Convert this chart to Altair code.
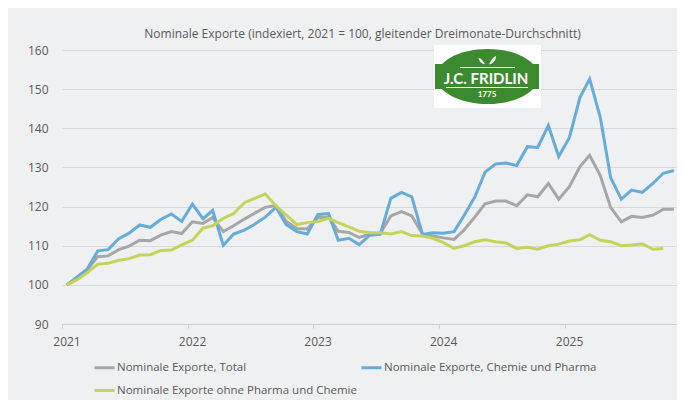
import altair as alt
import pandas as pd

# ---- data ----
series_names = [
    "Nominale Exporte, Total",
    "Nominale Exporte, Chemie und Pharma",
    "Nominale Exporte ohne Pharma und Chemie",
]
series_colors = ["#a6a6a6", "#66acd8", "#c4d45a"]

total = [100.0, 101.6, 103.8, 107.2, 107.4, 109.0, 109.9, 111.4, 111.3, 112.7, 113.6, 113.1,
         116.1, 115.7, 117.2, 113.6, 115.1, 116.8, 118.3, 119.8, 120.3, 116.2, 114.4, 114.3,
         117.2, 117.3, 113.7, 113.4, 112.1, 113.0, 113.1, 117.6, 118.7, 117.6, 113.0, 112.5,
         112.0, 111.6, 114.0, 117.3, 120.7, 121.4, 121.4, 120.2, 123.0, 122.5, 125.9, 121.9,
         125.1, 130.2, 133.1, 127.9, 119.8, 116.1, 117.5, 117.2, 117.8, 119.3, 119.3]

chemie = [100.0, 102.1, 104.0, 108.7, 109.0, 111.8, 113.2, 115.3, 114.7, 116.7, 118.1, 116.2,
          120.6, 116.9, 119.0, 110.1, 113.0, 114.0, 115.5, 117.3, 119.8, 115.4, 113.6, 113.0,
          118.0, 118.2, 111.4, 111.9, 110.3, 112.7, 112.9, 122.1, 123.6, 122.5, 112.9, 113.3,
          113.2, 113.6, 117.7, 122.4, 128.8, 130.9, 131.1, 130.5, 135.3, 135.1, 140.7, 132.8,
          137.6, 147.9, 152.6, 142.8, 127.4, 121.9, 124.2, 123.6, 125.9, 128.5, 129.2]

ohne = [100.0, 101.4, 103.1, 105.3, 105.5, 106.3, 106.7, 107.6, 107.7, 108.8, 108.9, 110.2,
        111.4, 114.5, 115.1, 117.0, 118.2, 121.0, 122.1, 123.2, 120.2, 117.8, 115.4, 115.9,
        116.2, 117.0, 115.9, 114.8, 113.7, 113.3, 113.3, 113.0, 113.6, 112.6, 112.5, 111.9,
        110.8, 109.3, 110.0, 111.0, 111.5, 111.0, 110.7, 109.3, 109.6, 109.1, 110.0, 110.4,
        111.2, 111.5, 112.8, 111.4, 111.0, 110.0, 110.2, 110.5, 109.1, 109.3]

year_ticks = [2021, 2022, 2023, 2024, 2025]
y_ticks = [90, 100, 110, 120, 130, 140, 150, 160]
title_text = "Nominale Exporte (indexiert, 2021 = 100, gleitender Dreimonate-Durchschnitt)"

months = pd.date_range("2021-01-01", periods=59, freq="MS") + pd.Timedelta(days=14)

rows = []
for name, vals in zip(series_names, [total, chemie, ohne]):
    for d, v in zip(months, vals):
        rows.append({"Monat": d, "Serie": name, "Wert": v})
df = pd.DataFrame(rows)

FONT = "Open Sans"
TXT = "#595959"
GREEN = "#3c8a2f"

W, H = 615, 274

x_enc = alt.X(
    "Monat:T",
    title=None,
    scale=alt.Scale(domain=[alt.DateTime(year=2021, month=1, date=1),
                            alt.DateTime(year=2025, month=11, date=24)]),
    axis=alt.Axis(values=[alt.DateTime(year=y, month=1, date=1) for y in year_ticks],
                  format="%Y", grid=False, domainColor="#cfcfcf", tickColor="#cfcfcf",
                  tickSize=4, labelPadding=8, labelOffset=4.5, labelFlush=False,
                  labelFont=FONT, labelFontSize=12, labelColor=TXT),
)
y_enc = alt.Y(
    "Wert:Q",
    title=None,
    scale=alt.Scale(domain=[90, 160], nice=False, zero=False),
    axis=alt.Axis(values=y_ticks, grid=True, gridColor="#d9d9d9", gridWidth=1,
                  domain=False, ticks=False, labelPadding=14, labelFont=FONT,
                  labelFontSize=12, labelColor=TXT),
)
color_enc = alt.Color(
    "Serie:N",
    scale=alt.Scale(domain=series_names, range=series_colors),
    legend=alt.Legend(orient="none", legendX=31, legendY=306, direction="horizontal",
                      columns=2, columnPadding=-2, rowPadding=5, title=None,
                      symbolType="stroke", symbolSize=400, symbolStrokeWidth=3,
                      labelFont=FONT, labelFontSize=11.5, labelColor=TXT,
                      labelOffset=1, labelLimit=500, padding=0),
)

one = pd.DataFrame({"k": [0]})

lines = [
    alt.Chart(df).transform_filter(alt.datum.Serie == n).mark_line(strokeWidth=3).encode(
        x=x_enc, y=y_enc, color=color_enc)
    for n in series_names
]

# ---- logo ----
logo_box = alt.Chart(one).mark_rect(color="white").encode(
    x=alt.value(372), x2=alt.value(479), y=alt.value(-5), y2=alt.value(58))
ellipse_path = "M-1,0 A1,0.54 0 1,1 1,0 A1,0.54 0 1,1 -1,0 Z"
logo_ellipse = alt.Chart(one).mark_point(shape=ellipse_path, size=102 * 102, filled=True,
                                         fill=GREEN, strokeWidth=0, opacity=1).encode(
    x=alt.value(425.5), y=alt.value(26.5))
logo_band = alt.Chart(one).mark_rect(color=GREEN).encode(
    x=alt.value(373), x2=alt.value(477), y=alt.value(14), y2=alt.value(39))
logo_text = alt.Chart(one).mark_text(text="J.C. FRIDLIN", font="Lato", fontWeight="bold",
                                     fontSize=15, color="white", align="center",
                                     baseline="middle").encode(
    x=alt.value(424), y=alt.value(28.5))
logo_year = alt.Chart(one).mark_text(text="1775", font="Lato", fontWeight="bold",
                                     fontSize=8, color="white", align="center",
                                     baseline="middle").encode(
    x=alt.value(425), y=alt.value(45))
logo_rule1 = alt.Chart(one).mark_rule(color="white", strokeWidth=1).encode(
    x=alt.value(398), x2=alt.value(453), y=alt.value(17.5))
logo_rule2 = alt.Chart(one).mark_rule(color="white", strokeWidth=1).encode(
    x=alt.value(384), x2=alt.value(466), y=alt.value(37.5))
leaf_left = "M0,0.5 C-0.3,0 -0.6,-0.4 -1,-0.5 C-0.95,0 -0.6,0.4 0,0.5 Z"
leaf_right = "M0,0.5 C0.3,-0.1 0.6,-0.6 1,-0.7 C0.95,-0.1 0.6,0.4 0,0.5 Z"
logo_leaf1 = alt.Chart(one).mark_point(shape=leaf_left, size=170, filled=True, fill="white",
                                       strokeWidth=0, opacity=1).encode(
    x=alt.value(423), y=alt.value(11))
logo_leaf2 = alt.Chart(one).mark_point(shape=leaf_right, size=200, filled=True, fill="white",
                                       strokeWidth=0, opacity=1).encode(
    x=alt.value(427), y=alt.value(11))

chart = alt.layer(
    *lines,
    logo_box, logo_ellipse, logo_band, logo_text, logo_year, logo_rule1, logo_rule2,
    logo_leaf1, logo_leaf2,
).properties(
    width=W, height=H,
    title=alt.TitleParams(title_text, font=FONT, fontSize=12, fontWeight="normal",
                          color=TXT, anchor="middle", offset=3, dx=-7),
    autosize=alt.AutoSizeParams(type="none"),
    padding={"left": 54, "top": 42, "right": 0, "bottom": 76},
    background="#eff0f2",
).configure_view(stroke=None)

chart.save("out.html", embed_options={"renderer": "svg", "actions": False})
